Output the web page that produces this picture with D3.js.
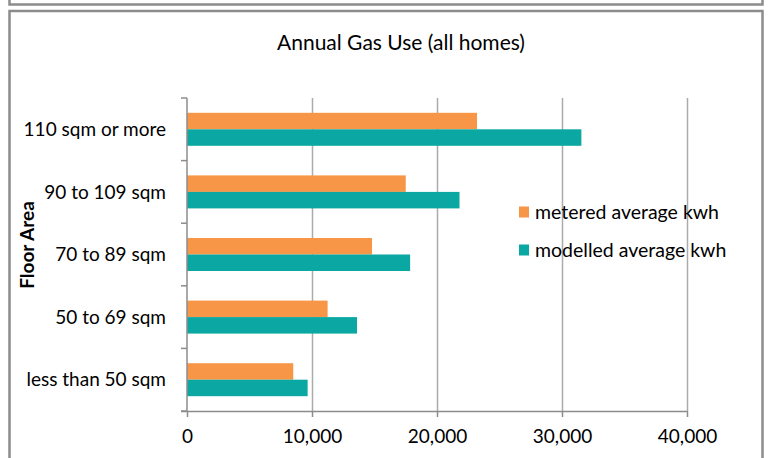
<!DOCTYPE html>
<html>
<head>
<meta charset="utf-8">
<script src="https://cdn.jsdelivr.net/npm/d3@7"></script>
<style>
  html, body { margin: 0; padding: 0; background: #fff; }
  svg { display: block; }
  text { font-family: Lato, "Open Sans", sans-serif; fill: #000; }
</style>
</head>
<body>
<script>
// Floor-area bands, top to bottom
const categories = ["110 sqm or more", "90 to 109 sqm", "70 to 89 sqm", "50 to 69 sqm", "less than 50 sqm"];
// Annual gas use in kWh per band
const metered  = [23200, 17500, 14800, 11250, 8500];
const modelled = [31550, 21800, 17850, 13600, 9650];
const seriesNames = ["metered average kwh", "modelled average kwh"];
const seriesColors = ["#F79646", "#0BA8A3"];
const xTicks = [0, 10000, 20000, 30000, 40000];

const W = 769, H = 458;
const svg = d3.select("body").append("svg").attr("width", W).attr("height", H);

// Frames around the chart area
const frame = svg.append("g").attr("fill", "none").attr("stroke", "#8c8c8c").attr("stroke-width", 2.5);
frame.append("path").attr("d", "M9.5,-2 V4.5 H762.5 V-2");
frame.append("rect").attr("x", 9.5).attr("y", 11).attr("width", 753).attr("height", 460);

svg.append("text")
  .attr("x", 401).attr("y", 50)
  .attr("text-anchor", "middle")
  .style("font-size", "21px")
  .text("Annual Gas Use (all homes)");

const plot = { left: 187, right: 687, top: 98, bottom: 411 };

const x = d3.scaleLinear().domain([0, 40000]).range([plot.left, plot.right]);
const y = d3.scaleBand().domain(categories).range([plot.top, plot.bottom])
  .paddingInner(0.473).paddingOuter(0.2365);
const ySub = d3.scaleBand().domain(seriesNames).range([0, y.bandwidth()]);

// Vertical gridlines
svg.append("g").selectAll("line").data(xTicks.slice(1)).join("line")
  .attr("x1", d => Math.round(x(d)) + 0.5).attr("x2", d => Math.round(x(d)) + 0.5)
  .attr("y1", plot.top).attr("y2", plot.bottom)
  .attr("stroke", "#ababab").attr("stroke-width", 1.5);

// Bars
const rows = categories.map((c, i) => ({ c, vals: [metered[i], modelled[i]] }));
const groups = svg.append("g").selectAll("g").data(rows).join("g")
  .attr("transform", d => `translate(0,${y(d.c)})`);
groups.selectAll("rect").data(d => d.vals.map((v, j) => ({ v, s: seriesNames[j], j }))).join("rect")
  .attr("x", x(0))
  .attr("y", d => ySub(d.s))
  .attr("width", d => x(d.v) - x(0))
  .attr("height", ySub.bandwidth())
  .attr("fill", d => seriesColors[d.j]);

// Bottom axis
const xAxis = d3.axisBottom(x).tickValues(xTicks).tickSize(6).tickPadding(13)
  .tickFormat(d3.format(","));
const gx = svg.append("g").attr("transform", `translate(0,${plot.bottom})`).call(xAxis);
gx.select(".domain").attr("d", `M${plot.left - 6},0.5H${plot.right}`).attr("stroke", "#8c8c8c").attr("stroke-width", 1.5);
gx.selectAll(".tick line").attr("stroke", "#8c8c8c").attr("stroke-width", 1.5);
gx.selectAll(".tick text").style("font-size", "19px").style("font-family", "Lato, sans-serif").attr("fill", "#000");

// Left axis: category labels with ticks on band boundaries
const gy = svg.append("g").attr("transform", `translate(${plot.left},0)`);
gy.append("line").attr("x1", 0).attr("x2", 0).attr("y1", plot.top).attr("y2", plot.bottom)
  .attr("stroke", "#8c8c8c").attr("stroke-width", 1.5);
const bounds = d3.range(categories.length + 1).map(i => plot.top + i * (plot.bottom - plot.top) / categories.length);
gy.selectAll("line.tk").data(bounds).join("line").attr("class", "tk")
  .attr("x1", -6).attr("x2", 0).attr("y1", d => d).attr("y2", d => d)
  .attr("stroke", "#8c8c8c").attr("stroke-width", 1.5);
gy.selectAll("text").data(categories).join("text")
  .attr("x", -21).attr("y", d => y(d) + y.bandwidth() / 2)
  .attr("dy", "0.35em")
  .attr("text-anchor", "end")
  .style("font-size", "19px")
  .text(d => d);

svg.append("text")
  .attr("transform", "translate(34,245) rotate(-90)")
  .attr("text-anchor", "middle")
  .style("font-size", "19px").style("font-weight", "bold")
  .text("Floor Area");

// Legend
const legend = svg.append("g").selectAll("g").data(seriesNames).join("g")
  .attr("transform", (d, i) => `translate(519,${212 + i * 38})`);
legend.append("rect").attr("x", 0).attr("y", -5.5).attr("width", 10).attr("height", 11)
  .attr("fill", (d, i) => seriesColors[i]);
legend.append("text").attr("x", 16).attr("dy", "0.35em").style("font-size", "19.5px").text(d => d);
</script>
</body>
</html>
